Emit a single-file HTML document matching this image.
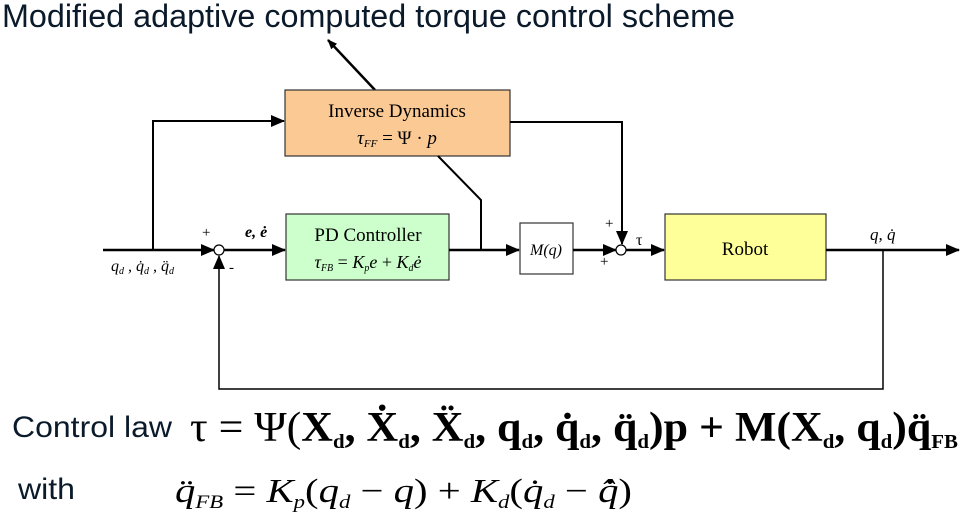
<!DOCTYPE html>
<html><head><meta charset="utf-8"><style>
body{margin:0;background:#fff;}
svg{display:block;}
</style></head><body>
<svg width="967" height="517" xmlns="http://www.w3.org/2000/svg">
<defs>
<marker id="a" markerWidth="10" markerHeight="8" refX="9" refY="4" orient="auto" markerUnits="userSpaceOnUse"><path d="M0,0 L10,4 L0,8 z" fill="#000"/></marker>
<marker id="b" markerWidth="14" markerHeight="12" refX="13" refY="6" orient="auto" markerUnits="userSpaceOnUse"><path d="M0,0 L14,6 L0,12 z" fill="#000"/></marker>
</defs>
<text x="2" y="27" font-family="Liberation Sans, sans-serif" font-size="32" fill="#0a1a2a" textLength="733" lengthAdjust="spacingAndGlyphs">Modified adaptive computed torque control scheme</text>
<line x1="375" y1="90" x2="328" y2="40" stroke="#000" stroke-width="2.5" marker-end="url(#a)"/>
<rect x="285" y="90" width="225" height="66" fill="#FBC994" stroke="#333" stroke-width="1.2"/>
<text x="397" y="117" text-anchor="middle" font-family="Liberation Serif, serif" font-size="19">Inverse Dynamics</text>
<text x="397" y="144" text-anchor="middle" font-family="Liberation Serif, serif" font-size="19"><tspan font-style="italic">τ</tspan><tspan font-size="11" font-style="italic" dy="3">FF</tspan><tspan dy="-3"> = Ψ · </tspan><tspan font-style="italic">p</tspan></text>
<rect x="286" y="214" width="163" height="66" fill="#CCFFCC" stroke="#333" stroke-width="1.2"/>
<text x="368" y="241" text-anchor="middle" font-family="Liberation Serif, serif" font-size="19">PD Controller</text>
<text x="368" y="268" text-anchor="middle" font-family="Liberation Serif, serif" font-size="18" font-style="italic">τ<tspan font-size="10" dy="3">FB</tspan><tspan dy="-3" font-style="normal"> = </tspan>K<tspan font-size="10" dy="3">p</tspan><tspan dy="-3">e</tspan><tspan font-style="normal"> + </tspan>K<tspan font-size="10" dy="3">d</tspan><tspan dy="-3">ė</tspan></text>
<rect x="520" y="223" width="53" height="51" fill="#fff" stroke="#333" stroke-width="1.2"/>
<text x="546" y="255" text-anchor="middle" font-family="Liberation Serif, serif" font-size="16" font-style="italic">M(q)</text>
<rect x="665" y="214" width="161" height="66" fill="#FFFF99" stroke="#333" stroke-width="1.2"/>
<text x="745" y="255" text-anchor="middle" font-family="Liberation Serif, serif" font-size="19">Robot</text>
<line x1="103" y1="250" x2="214" y2="250" stroke="#000" stroke-width="2.5" marker-end="url(#b)"/>
<polyline points="153,250 153,121 284,121" fill="none" stroke="#000" stroke-width="2" marker-end="url(#b)"/>
<circle cx="219" cy="250" r="5" fill="#fff" stroke="#000" stroke-width="1.2"/>
<line x1="224" y1="250" x2="285" y2="250" stroke="#000" stroke-width="2.5" marker-end="url(#b)"/>
<line x1="449" y1="250" x2="519" y2="250" stroke="#000" stroke-width="2.5" marker-end="url(#b)"/>
<polyline points="438,156 481,200 481,250" fill="none" stroke="#000" stroke-width="2"/>
<line x1="573" y1="250" x2="616" y2="250" stroke="#000" stroke-width="2.5" marker-end="url(#b)"/>
<polyline points="510,122 622,122 622,244" fill="none" stroke="#000" stroke-width="2" marker-end="url(#b)"/>
<circle cx="621" cy="250" r="5" fill="#fff" stroke="#000" stroke-width="1.2"/>
<line x1="626" y1="250" x2="664" y2="250" stroke="#000" stroke-width="2.5" marker-end="url(#b)"/>
<line x1="826" y1="250" x2="959" y2="250" stroke="#000" stroke-width="2.5" marker-end="url(#b)"/>
<polyline points="883,250 883,389 219,389 219,256" fill="none" stroke="#000" stroke-width="1.5" marker-end="url(#b)"/>
<g font-family="Liberation Serif, serif" font-size="15">
<text x="202" y="237">+</text>
<text x="229" y="272">-</text>
<text x="605" y="228">+</text>
<text x="600" y="266">+</text>
<text x="636" y="245" font-size="16">τ</text>
<text x="245" y="237" font-style="italic" font-weight="bold" font-size="16">e, ė</text>
<text x="870" y="240" font-style="italic" font-size="17">q, q̇</text>
<text x="111" y="271" font-style="italic" font-size="16">q<tspan font-size="10" dy="3">d</tspan><tspan dy="-3"> , q̇</tspan><tspan font-size="10" dy="3">d</tspan><tspan dy="-3"> , q̈</tspan><tspan font-size="10" dy="3">d</tspan></text>
</g>
<text x="12" y="437" font-family="Liberation Sans, sans-serif" font-size="30" fill="#0a1a2a" textLength="160" lengthAdjust="spacingAndGlyphs">Control law</text>
<text x="190" y="441" font-family="Liberation Serif, serif" font-size="42" font-weight="bold" textLength="768" lengthAdjust="spacingAndGlyphs"><tspan font-weight="normal">τ = Ψ(</tspan>X<tspan font-size="20" dy="7">d</tspan><tspan dy="-7">, Ẋ</tspan><tspan font-size="20" dy="7">d</tspan><tspan dy="-7">, Ẍ</tspan><tspan font-size="20" dy="7">d</tspan><tspan dy="-7">, q</tspan><tspan font-size="20" dy="7">d</tspan><tspan dy="-7">, q̇</tspan><tspan font-size="20" dy="7">d</tspan><tspan dy="-7">, q̈</tspan><tspan font-size="20" dy="7">d</tspan><tspan dy="-7">)p + M(X</tspan><tspan font-size="20" dy="7">d</tspan><tspan dy="-7">, q</tspan><tspan font-size="20" dy="7">d</tspan><tspan dy="-7">)q̈</tspan><tspan font-size="20" dy="7">FB</tspan></text>
<text x="18" y="499" font-family="Liberation Sans, sans-serif" font-size="30" fill="#0a1a2a" textLength="57" lengthAdjust="spacingAndGlyphs">with</text>
<text x="175" y="502" font-family="Liberation Serif, serif" font-size="34" font-style="italic" textLength="457" lengthAdjust="spacingAndGlyphs">q̈<tspan font-size="19" dy="6">FB</tspan><tspan dy="-6" font-style="normal"> = </tspan>K<tspan font-size="19" dy="6">p</tspan><tspan dy="-6" font-style="normal">(</tspan>q<tspan font-size="19" dy="6">d</tspan><tspan dy="-6" font-style="normal"> − </tspan>q<tspan font-style="normal">) + </tspan>K<tspan font-size="19" dy="6">d</tspan><tspan dy="-6" font-style="normal">(</tspan>q̇<tspan font-size="19" dy="6">d</tspan><tspan dy="-6" font-style="normal"> − </tspan>q̂̇<tspan font-style="normal">)</tspan></text>
</svg>
</body></html>
